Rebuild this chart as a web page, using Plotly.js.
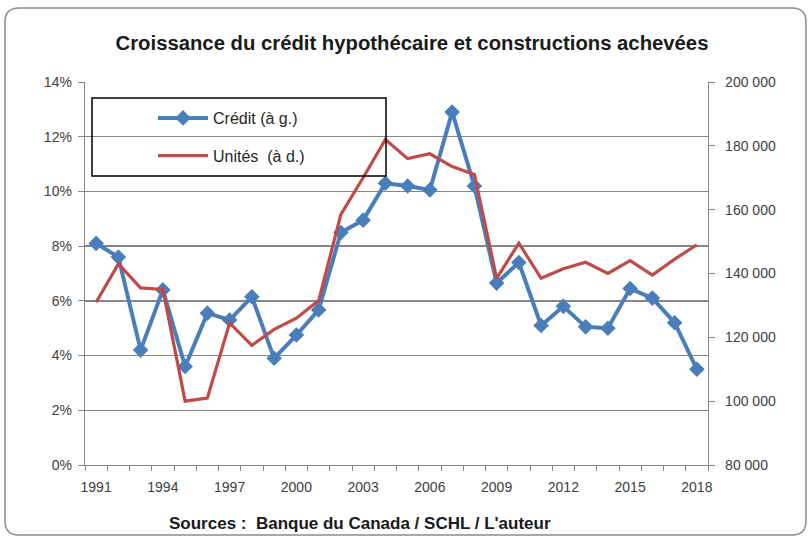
<!DOCTYPE html>
<html><head><meta charset="utf-8">
<script src="https://cdn.plot.ly/plotly-3.0.1.min.js"></script>
<style>html,body{margin:0;padding:0;background:#fff}</style>
</head><body><div id="chart" style="width:811px;height:540px"></div>
<script>
// ---- data ----
const years = [1991,1992,1993,1994,1995,1996,1997,1998,1999,2000,2001,2002,2003,2004,2005,2006,2007,2008,2009,2010,2011,2012,2013,2014,2015,2016,2017,2018];
const credit = [8.1,7.6,4.2,6.4,3.6,5.55,5.3,6.15,3.9,4.75,5.67,8.5,8.95,10.3,10.2,10.05,12.9,10.2,6.65,7.4,5.1,5.8,5.05,5.0,6.45,6.1,5.2,3.5];
const units = [131000,143000,135500,135000,100000,101000,124500,117500,122500,126000,131500,158500,170000,182000,176000,177500,173500,171000,138500,149500,138500,141500,143500,140000,144000,139500,144500,149000];
const xTickVals = [1991,1994,1997,2000,2003,2006,2009,2012,2015,2018];
const seriesNames = ["Crédit (à g.)", "Unités  (à d.)"];
const titleText = "Croissance du crédit hypothécaire et constructions achevées";
const sourceText = "Sources :  Banque du Canada / SCHL / L'auteur";

// ---- layout helpers (pixel -> paper) ----
const W = 811, H = 540, L = 85, R = 708, T = 82, B = 465;
const px = p => (p - L) / (R - L);
const py = p => (B - p) / (B - T);

function roundRect(x0, y0, x1, y1, r) {
  const f = (x, y) => px(x) + ',' + py(y);
  return 'M' + f(x0 + r, y0) + ' L' + f(x1 - r, y0) + ' Q' + f(x1, y0) + ' ' + f(x1, y0 + r) +
    ' L' + f(x1, y1 - r) + ' Q' + f(x1, y1) + ' ' + f(x1 - r, y1) +
    ' L' + f(x0 + r, y1) + ' Q' + f(x0, y1) + ' ' + f(x0, y1 - r) +
    ' L' + f(x0, y0 + r) + ' Q' + f(x0, y0) + ' ' + f(x0 + r, y0) + ' Z';
}

const FONT = 'Liberation Sans, Arial, sans-serif';
const blue = '#4A7EBB', red = '#BE4B48';

const traces = [
  { x: years, y: credit, name: seriesNames[0], type: 'scatter', mode: 'lines+markers',
    legendgroup: 'a', yaxis: 'y',
    line: { color: blue, width: 4 }, marker: { symbol: 'diamond', size: 12, color: blue } },
  { x: years, y: units, name: seriesNames[1], type: 'scatter', mode: 'lines',
    legendgroup: 'b', yaxis: 'y2',
    line: { color: red, width: 3.2 } }
];

const layout = {
  width: W, height: H,
  margin: { l: L, r: W - R, t: T, b: H - B, pad: 0 },
  paper_bgcolor: '#fff', plot_bgcolor: '#fff',
  separators: ', ',
  font: { family: FONT, size: 14, color: '#404040' },
  title: { text: titleText, x: 412 / W, xanchor: 'center', xref: 'container',
    y: 1 - 43 / H, yanchor: 'middle', yref: 'container',
    font: { family: FONT, size: 20.3, color: '#1a1a1a', weight: 'bold' } },
  showlegend: true,
  legend: { x: px(153), y: py(101), xanchor: 'left', yanchor: 'top',
    bgcolor: 'rgba(0,0,0,0)', borderwidth: 0, tracegroupgap: 14, itemwidth: 50,
    font: { family: FONT, size: 16, color: '#262626' } },
  xaxis: { range: [1990.5, 2018.5], tickmode: 'array', tickvals: xTickVals,
    ticks: '', showgrid: false, zeroline: false, ticklabelstandoff: 9,
    showline: true, linecolor: '#868686', linewidth: 1.3,
    tickfont: { family: FONT, size: 14, color: '#404040' },
    minor: { tick0: 1990.5, dtick: 1, ticks: 'outside', ticklen: 5, tickcolor: '#868686', tickwidth: 1, showgrid: false } },
  yaxis: { range: [0, 14], dtick: 2, tick0: 0, ticksuffix: '%',
    showgrid: true, gridcolor: '#868686', gridwidth: 1.4, zeroline: false,
    showline: true, linecolor: '#868686', linewidth: 1.3,
    ticks: 'outside', ticklen: 6, tickcolor: '#868686', ticklabelstandoff: 3,
    tickfont: { family: FONT, size: 14, color: '#404040' } },
  yaxis2: { range: [80000, 200000], dtick: 20000, tick0: 80000, tickformat: ',d',
    overlaying: 'y', side: 'right', showgrid: false, zeroline: false,
    showline: true, linecolor: '#868686', linewidth: 1.3,
    ticks: 'outside', ticklen: 6, tickcolor: '#868686', ticklabelstandoff: 7,
    tickfont: { family: FONT, size: 14, color: '#404040' } },
  shapes: [
    { type: 'path', xref: 'paper', yref: 'paper', path: roundRect(5, 8, 806, 535, 14),
      line: { color: '#8c8c8c', width: 1.5 }, fillcolor: 'rgba(0,0,0,0)', layer: 'below' },
    { type: 'rect', xref: 'paper', yref: 'paper', x0: px(92), x1: px(386), y0: py(98), y1: py(176),
      line: { color: '#000', width: 1.5 }, fillcolor: 'rgba(0,0,0,0)', layer: 'above' }
  ],
  annotations: [
    { text: '<b>' + sourceText + '</b>', xref: 'paper', yref: 'paper', x: px(360), y: py(523),
      xanchor: 'center', yanchor: 'middle', showarrow: false,
      font: { family: FONT, size: 17, color: '#1a1a1a' } }
  ]
};

Plotly.newPlot('chart', traces, layout, { displayModeBar: false, staticPlot: true });
</script>
</body></html>
